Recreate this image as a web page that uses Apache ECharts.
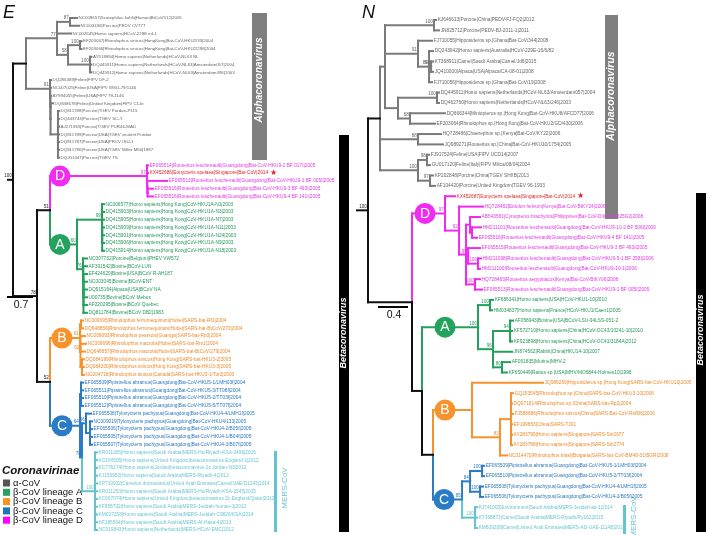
<!DOCTYPE html>
<html><head><meta charset="utf-8">
<script src="https://cdn.jsdelivr.net/npm/echarts@6/dist/echarts.min.js"></script>
<style>html,body{margin:0;padding:0;background:#fff}#c{width:709px;height:535px}</style>
</head><body><div id="c"></div><script>
// ===================== DATA (Newick subtrees, branch lengths in substitutions/site) =====================
const E_alphaUp = "((NC009657|Scotophilus kuhlii|Hainan|BtCoV512|2005:0.189,NC003436|Porcine|PEDV CV777:0.243)87:0.350,NC002645|Homo sapiens|HCoV-229E inf-1:0.377,((EF203067|Rhinolophus sinicus|HongKong|Bat-CoV-HKU2/33|2004:0.040,EF203066|Rhinolophus sinicus|HongKong|Bat-CoV-HKU2/298|2004:0.040)100:0.323,(AY518894|Homo sapiens|Netherlands|HCoV-NL63 NL:0.040,DQ445911|Homo sapiens|Netherlands|HCoV-NL63|Amsterdam057|2004:0.040,DQ445912|Homo sapiens|Netherlands|HCoV-NL63|Amsterdam496|2003:0.040)100:0.593)58:0.296)77{alpha}:0.836";
const E_alphaLow = "(DQ286389|Feline|FIPV DF-2:0.027,(NC007025|Feline|USA|FIPV WSU-79/1146:0.022,(AY994055|Feline|USA|FIPV 79-1146:0.016,(DQ848678|Feline|United Kingdom|FIPV C1Je:0.065,(DQ811788|Porcine|TGEV Purdue-P115:0.027,DQ443743|Porcine|TGEV SC-Y:0.027,AJ271965|Porcine|TGEV PUR46-MAD:0.027,DQ811789|Porcine|USA|TGEV virulent Purdue:0.027,DQ811787|Porcine|USA|PRCV ISU-1:0.027,DQ811786|Porcine|USA|TGEV Miller M60|1987:0.027,DQ201447|Porcine|TGEV TS:0.027):0.2):0.005):0.005):0.005)91{alpha}:0.647";
const E_D = "(EF065514|Rousettus leschenaulti|Guangdong|Bat-CoV-HKU9-2 BF 017I|2005:0.027,KX452686|Eonycteris spelaea|Singapore|Bat-CoV|2014:0.027,(EF065513|Rousettus leschenaulti|Guangdong|Bat-CoV-HKU9-1 BF 005I|2005:0.531,(EF065515|Rousettus leschenaulti|Guangdong|Bat-CoV-HKU9-3 BF 493I|2005:0.146,EF065516|Rousettus leschenaulti|Guangdong|Bat-CoV-HKU9-4 BF 141I|2005:0.146):0.008):0.008)97{D}:2.615";
const E_A = "((NC006577|Homo sapiens|Hong Kong|CoV-HKU1A-N1|2003:0.054,DQ415903|Homo sapiens|Hong Kong|CoV-HKU1A-N3|2003:0.054,(DQ415905|Homo sapiens|Hong Kong|CoV-HKU1A-N7|2003:0.049,DQ415909|Homo sapiens|Hong Kong|CoV-HKU1A-N11|2003:0.049,DQ415901|Homo sapiens|Hong Kong|CoV-HKU1A-N24|2003:0.049,DQ415906|Homo sapiens|Hong Kong|CoV-HKU1A-N9|2003:0.049,DQ415914|Homo sapiens|Hong Kong|CoV-HKU1A-N18|2003:0.049):0.005)99:0.674,(NC007732|Porcine|Belgium|PHEV VW572:0.108,(AF391542|Bovine|BCoV-LUN:0.1,(EF424620|Bovine|USA|BCoV R-AH187:0.094,NC003045|Bovine|BCoV-ENT:0.094,DQ915164|Alpaca|USA|BCoV NA:0.094,U00735|Bovine|BCoV Mebus:0.094,AF220295|Bovine|BCoV Quebec:0.094,DQ811784|Bovine|BCoV DB2|1983:0.094):0.005):0.008)76:0.162)60{A}:0.728";
const E_B = "((NC009695|Rhinolophus ferrumequinum|Hubei|SARS-bat-Rf1|2004:0.054,DQ648856|Rhinolophus ferrumequinum|Hubei|SARS-bat-BtCoV/273|2004:0.054):0.027,(NC009693|Rhinolophus pearsoni|Guangxi|SARS-bat-Rp3|2004:0.121,NC009696|Rhinolophus macrotis|Hubei|SARS-bat-Rm1|2004:0.148,DQ648857|Rhinolophus macrotis|Hubei|SARS-bat-BtCoV/279|2004:0.121,(DQ084199|Rhinolophus sinicus|Hong Kong|SARS-bat-HKU3-2|2005:0.054,DQ084200|Rhinolophus sinicus|Hong Kong|SARS-bat-HKU3-3|2005:0.054,NC004718|Rhinolophus sinicus|Canada|SARS-bat-HKU3-1/Tor2|2003:0.054):0.04)62:0.013)61{B}:0.809";
const E_MERS = "(KR011265|Homo sapiens|Saudi Arabia|MERS-Hu/Riyadh-KSA-2496|2015:0.054,KC164505|Homo sapiens|United Kingdom|betacoronavirus England 1|2012:0.054,KC776174|Homo sapiens|Jordan|betacoronavirus 2c Jordan-N3|2012:0.054,KJ156952|Homo sapiens|Saudi Arabia|MERS-Riyadh-4|2013:0.054,KP719932|Camelus dromedarius|United Arab Emirates|Camel/UAE/D1243|2014:0.054,KR011263|Homo sapiens|Saudi Arabia|MERS-Hu/Riyadh-KSA-2345|2015:0.054,KC667074|Homo sapiens|United Kingdom|betacoronavirus 2c England/Qatar|2012:0.054,KF958702|Homo sapiens|Saudi Arabia|MERS-Jeddah-human-1|2013:0.054,KM027258|Homo sapiens|Saudi Arabia|MERS-Jeddah-C9826/KSA|2014:0.054,KF186564|Homo sapiens|Saudi Arabia|MERS-Al-Hasa-4|2013:0.054,NC019843|Homo sapiens|Netherlands|MERS-HCoV-EMC|2012:0.054)100{MERS}:0.35";
const E_C = "((EF065509|Pipistrellus abramus|Guangdong|Bat-CoV-HKU5-1/LMH03f|2004:0.054,EF065511|Pipistrellus abramus|Guangdong|Bat-CoV-HKU5-3/TT08f|2004:0.054,EF065510|Pipistrellus abramus|Guangdong|Bat-CoV-HKU5-2/TT03f|2004:0.054,EF065512|Pipistrellus abramus|Guangdong|Bat-CoV-HKU5-5/TT07f|2004:0.054):0.027,((EF065508|Tylonycteris pachypus|Guangdong|Bat-CoV-HKU4-4/LMH1f|2005:0.135,(NC009019|Tylonycteris pachypus|Guangdong|Bat-CoV-HKU4/133|2005:0.054,EF065506|Tylonycteris pachypus|Guangdong|Bat-CoV-HKU4-2/B05f|2005:0.054,EF065505|Tylonycteris pachypus|Guangdong|Bat-CoV-HKU4-1/B04f|2005:0.054,EF065507|Tylonycteris pachypus|Guangdong|Bat-CoV-HKU4-3/B07f|2005:0.054):0.108)96:0.108," + E_MERS + ")78:0.054)64{C}:0.809";
const treeE = "((" + E_alphaUp + "," + E_alphaLow + "):0.35,((" + E_D + "," + E_A + ")51:0.35,(" + E_B + "," + E_C + ")52:0.35)78:0.647)100:0.135";

const N_alpha1 = "((KJ646613|Porcine|China|PEDV-FJ-FQ2|2012:0.027,JN825712|Porcine|PEDV-BJ-2011-1|2011:0.067)100:0.653,(FJ710055|Hipposideros sp.|Ghana|Bat-CoV/344|2008:0.187,(DQ243942|Homo sapiens|Australia|HCoV-229E-16/6/82:0.053,(KT368911|Camel|Saudi Arabia|Camel/Jd6|2015:0.027,JQ410000|Alpaca|USA|Alpaca/CA-08-01|2008:0.027)91:0.027,FJ710056|Hipposideros sp.|Ghana|Bat-CoV/19|2008:0.04)89:0.147)91:0.44,((DQ445911|Homo sapiens|Netherlands|HCoV-NL63/Amsterdam057|2004:0.027,DQ462760|Homo sapiens|Netherlands|HCoV-NL63/246|2003:0.027)100:0.52,(DQ666344|Miniopterus sp.|Hong Kong|Bat-CoV-HKU8/AFCD77|2006:0.467,EF203064|Rhinolophus sp.|Hong Kong|Bat-CoV-HKU2/GD/430|2006:0.333)68:0.16):0.173){alpha}:0.067";
const N_alpha2 = "(HQ728486|Chaerephon sp.|Kenya|Bat-CoV/KY22|2006:0.307,JQ989271|Rousettus sp.|China|Bat-CoV-HKU10/1754|2005:0.333)88{alpha}:0.507";
const N_alpha3 = "((FJ917524|Feline|USA|FIPV UCD14|2007:0.027,GU017120|Feline|Italy|FIPV Milica/08/04|2004:0.04)98:0.12,(KP202848|Porcine|China|TGEV SHXB|2013:0.04,AF104420|Porcine|United Kingdom|TGEV 96-1933:0.067)97:0.16)100{alpha}:0.507";
const N_D = "(KX452687|Eonycteris spelaea|Singapore|Bat-CoV|2014:0.133,(HQ728482|Eidolon helvum|Kenya|Bat-CoV-BtKY24|2006:0.32,((AB543561|Cynopterus brachyotis|Philippines|Bat-CoV-Diliman1525G2|2008:0.133,(HM211101|Rousettus leschenaulti|Guangdong|Bat-CoV-HKU9-10-2 BF 506I|2006:0.12,EF065516|Rousettus leschenaulti|Guangdong|Bat-CoV-HKU9-4 BF 141I|2005:0.067):0.027):0.053,(EF065515|Rousettus leschenaulti|Guangdong|Bat-CoV-HKU9-3 BF 493I|2005:0.16,(HM211098|Rousettus leschenaulti|Guangdong|Bat-CoV-HKU9-5-1 BF 258I|2006:0.04,HM211100|Rousettus leschenaulti|Guangdong|Bat-CoV-HKU9-10-1|2006:0.027)100:0.133)95:0.027,(HQ728483|Rousettus aegyptiacus|Kenya|Bat-CoV-BtKY06|2006:0.067,EF065513|Rousettus leschenaulti|Guangdong|Bat-CoV-HKU9-1 BF 005I|2005:0.093)100:0.12):0.093)92:0.187)97{D}:0.44";
const N_A = "((KF686341|Homo sapiens|USA|HCoV-HKU1-10|2010:0.04,HM034837|Homo sapiens|France|HCoV-HKU1/Caen1|2005:0.027)100:0.16,((AF058943|Bovine|USA|BCoV-LSU-94LSS-051-2:0.04,KF572710|Homo sapiens|China|HCoV-OC43/10241-10|2010:0.027,KF923898|Homo sapiens|China|HCoV-OC43/3184A|2012:0.027)94:0.227,JN874562|Rabbit|China|HKU14-10|2007:0.253,(AF061835|Murine|MHV-2:0.107,KF650449|Rattus sp.|USA|MHV/MO6844-Holmes10|1996:0.067)80:0.12)96:0.2)100{A}:0.747";
const N_B = "(JQ989269|Hipposideros sp.|Hong Kong|SARS-bat-CoV-HKU10|2005:0.947,((GQ153545|Rhinolophus sp.|China|SARS-bat-CoV-HKU3-10|2006:0.027,DQ071614|Rhinolophus sp.|China|SARS-bat-Rp2|2004:0.013,FJ588686|Rhinolophus sinicus|China|SARS-Bat-CoV-Rs806|2006:0.027,EF199653|China|SARS-TJ01:0.013,AY283795|Homo sapiens|Singapore|SARS-Sin2677:0.013,AY283798|Homo sapiens|Singapore|SARS-Sin2774:0.013):0.147,NC014470|Rhinolophus blasii|Bulgaria|SARS-bat-CoV-BM48-31/BGR|2008:0.093)83:0.373){B}:0.52";
const N_C = "(((EF065509|Pipistrellus abramus|Guangdong|Bat-CoV-HKU5-1/LMH03f|2004:0.027,EF065510|Pipistrellus abramus|Guangdong|Bat-CoV-HKU5-2/TT03f|2004:0.027)100:0.16,(EF065508|Tylonycteris pachypus|Guangdong|Bat-CoV-HKU4-4/LMH1f|2005:0.04,EF065506|Tylonycteris pachypus|Guangdong|Bat-CoV-HKU4-2/B05f|2005:0.04)100:0.133)84:0.107,(KJ741003|Environment|Saudi Arabia|MERS-Jeddah-air-1|2014:0.027,KT368871|Camel|Saudi Arabia|MERS-Riyadh/Ry162|2015:0.027,KM609208|Camel|United Arab Emirates|MERS-AD-UAE-1114B|2014:0.027)100{MERS}:0.173)85{C}:0.387";
const treeN = "((" + N_alpha1 + "," + N_alpha2 + "," + N_alpha3 + "):0.16,(" + N_D + ",(" + N_A + ",(" + N_B + "," + N_C + "):0.147):0.133):0.587)100:0.147";

const highlighted = ["KX452686", "KX452687"];
const scaleValues = [0.7, 0.4];
const panelLetters = ["E", "N"];
const legendTitle = "Coronavirinae";
const legendLabels = ["α-CoV", "β-CoV lineage A", "β-CoV lineage B", "β-CoV lineage C", "β-CoV lineage D"];
const legendClades = ["alpha", "A", "B", "C", "D"];
const genusLabels = ["Alphacoronavirus", "Betacoronavirus"];
const mersLabel = "MERS-CoV";

// ===================== STYLE / LAYOUT =====================
const LINE = {root:'#111111', alpha:'#7a7a7a', A:'#22a05c', B:'#f7922c', C:'#2b7cc3', D:'#f02af0', MERS:'#62c4ce'};
const TXT  = {root:'#222222', alpha:'#666666', A:'#26985a', B:'#f08a2a', C:'#2a78c0', D:'#e53ae5', MERS:'#6cc6cf'};
const CIRC = {A:'#24a35e', B:'#f7922c', C:'#2a7cc4', D:'#ef2cef'};
const LEG  = {alpha:'#555555', A:'#27a162', B:'#f7931e', C:'#1c75bc', D:'#ff00ff'};
const RED = '#e0262b';
const FF = '"Liberation Sans", Arial, sans-serif';
const P = [
  {tree:treeE, rootX:13, top:18, bottom:530, ppu:37.1, leafFont:4.8, alphaFont:4.4, circOff:{D:10,A:10,B:12,C:12}},
  {tree:treeN, rootX:368, top:20, bottom:528, ppu:75, leafFont:4.8, alphaFont:4.8, circOff:{D:13,A:23,B:12,C:11}}
];

// ===================== PARSER / LAYOUT =====================
function parseNewick(s) {
  let i = 0;
  function readLabel() { const st = i; while (i < s.length && ':,()'.indexOf(s[i]) < 0) i++; return s.slice(st, i).trim(); }
  function readLen() {
    if (s[i] === ':') { i++; const st = i; while (i < s.length && ',()'.indexOf(s[i]) < 0) i++; return parseFloat(s.slice(st, i)); }
    return 0;
  }
  function node() {
    const n = {children: []};
    if (s[i] === '(') {
      i++;
      n.children.push(node());
      while (s[i] === ',') { i++; n.children.push(node()); }
      i++;
      const lab = readLabel();
      const m = lab.match(/\{(\w+)\}/);
      n.tag = m ? m[1] : null;
      n.boot = lab.replace(/\{\w+\}/, '').trim();
    } else { n.name = readLabel(); }
    n.len = readLen();
    return n;
  }
  return node();
}

function buildPanel(cfg) {
  const root = parseNewick(cfg.tree);
  const leaves = [], internals = [];
  let idx = 0;
  (function walk(n, parent) {
    n.parent = parent;
    n.x = parent ? parent.x + n.len : 0;
    n.clade = n.tag || (parent ? parent.clade : 'root');
    if (n.children.length) {
      n.children.forEach(c => walk(c, n));
      n.y = (n.children[0].y + n.children[n.children.length - 1].y) / 2;
      internals.push(n);
    } else { n.y = idx++; leaves.push(n); }
  })(root, null);
  const segs = [], segMeta = [];
  segs.push([-root.len, root.y, 0, root.y]); segMeta.push('root');
  internals.forEach(n => n.children.forEach(c => {
    segs.push([n.x, n.y, n.x, c.y]); segMeta.push(c.clade);
    segs.push([n.x, c.y, c.x, c.y]); segMeta.push(c.clade);
  }));
  const boots = internals.filter(n => n.boot);
  const circles = internals.filter(n => n.tag && CIRC[n.tag]);
  return {root, leaves, internals, segs, segMeta, boots, circles};
}

const panels = P.map(buildPanel);

// ===================== CHART =====================
const chart = echarts.init(document.getElementById('c'), null, {renderer: 'canvas'});
const grids = [], xAxes = [], yAxes = [], series = [];
P.forEach((cfg, k) => {
  const pd = panels[k];
  const width = 300;
  grids.push({left: cfg.rootX, top: cfg.top, width: width, height: cfg.bottom - cfg.top});
  xAxes.push({type: 'value', gridIndex: k, min: 0, max: width / cfg.ppu, show: false});
  yAxes.push({type: 'value', gridIndex: k, min: 0, max: pd.leaves.length - 1, inverse: true, show: false});
  const base = {type: 'custom', xAxisIndex: k, yAxisIndex: k, clip: false, silent: true, animation: false};
  // branches
  series.push(Object.assign({}, base, {
    data: pd.segs,
    encode: {x: [0, 2], y: [1, 3]},
    renderItem: (params, api) => {
      const p1 = api.coord([api.value(0), api.value(1)]);
      const p2 = api.coord([api.value(2), api.value(3)]);
      return {type: 'line', shape: {x1: p1[0], y1: p1[1], x2: p2[0], y2: p2[1]},
        style: {stroke: LINE[pd.segMeta[params.dataIndex]], lineWidth: 2, lineCap: 'square'}};
    }
  }));
  // leaf labels
  series.push(Object.assign({}, base, {
    data: pd.leaves.map(n => [n.x, n.y]),
    renderItem: (params, api) => {
      const n = pd.leaves[params.dataIndex];
      const p = api.coord([api.value(0), api.value(1)]);
      const hl = highlighted.some(h => n.name.indexOf(h) === 0);
      const fs = n.clade === 'alpha' ? cfg.alphaFont : cfg.leafFont;
      const st = {fill: hl ? RED : TXT[n.clade], fontSize: fs, fontFamily: FF,
        align: 'left', textAlign: 'left', verticalAlign: 'middle', textVerticalAlign: 'middle'};
      if (hl) {
        st.text = '{t|' + n.name + '}{s| ★}';
        st.rich = {t: {fill: RED, fontSize: fs, fontFamily: FF}, s: {fill: RED, fontSize: 8, fontFamily: FF}};
      } else st.text = n.name;
      return {type: 'text', x: p[0] + 1.6, y: p[1], style: st};
    }
  }));
  // bootstrap values
  series.push(Object.assign({}, base, {
    data: pd.boots.map(n => [n.x, n.y]),
    renderItem: (params, api) => {
      const n = pd.boots[params.dataIndex];
      const p = api.coord([api.value(0), api.value(1)]);
      const col = n === pd.root ? TXT.root : TXT[n.clade];
      return {type: 'text', x: p[0] - 1.2, y: p[1] - 1.3,
        style: {text: n.boot, fill: col, fontSize: 4.6, fontFamily: FF,
          align: 'right', textAlign: 'right', verticalAlign: 'bottom', textVerticalAlign: 'bottom'}};
    }
  }));
  // lineage circles
  series.push(Object.assign({}, base, {
    data: pd.circles.map(n => [n.parent.x, n.y]),
    renderItem: (params, api) => {
      const n = pd.circles[params.dataIndex];
      const p = api.coord([api.value(0), api.value(1)]);
      const cx = p[0] + cfg.circOff[n.tag];
      return {type: 'group', children: [
        {type: 'circle', shape: {cx: cx, cy: p[1], r: 10.5}, style: {fill: CIRC[n.tag]}},
        {type: 'text', x: cx, y: p[1] + 0.5, style: {text: n.tag, fill: '#ffffff', fontSize: 14, fontFamily: FF,
          align: 'center', textAlign: 'center', verticalAlign: 'middle', textVerticalAlign: 'middle'}}
      ]};
    }
  }));
  // scale bar
  series.push(Object.assign({}, base, {
    data: [[scaleValues[k], 0]],
    renderItem: (params, api) => {
      const len = api.size([api.value(0), 0])[0];
      const sx = k === 0 ? 7 : 378, sy = k === 0 ? 297 : 307;
      return {type: 'group', children: [
        {type: 'line', shape: {x1: sx, y1: sy, x2: sx + len, y2: sy}, style: {stroke: '#000', lineWidth: 2}},
        {type: 'text', x: sx + len / 2 + 1, y: sy + 3, style: {text: String(api.value(0)), fill: '#111', fontSize: 10.5, fontFamily: FF,
          align: 'center', textAlign: 'center', verticalAlign: 'top', textVerticalAlign: 'top'}}
      ]};
    }
  }));
});

function vtext(x, y, text, fill, font) {
  return {type: 'text', x: x, y: y, rotation: Math.PI / 2, silent: true,
    style: {text: text, fill: fill, font: font, align: 'center', textAlign: 'center', verticalAlign: 'middle', textVerticalAlign: 'middle'}};
}
const graphic = [
  {type: 'text', x: 3, y: 4, style: {text: panelLetters[0], fill: '#111', font: 'italic 18px ' + FF}},
  {type: 'text', x: 362, y: 4, style: {text: panelLetters[1], fill: '#111', font: 'italic 18px ' + FF}},
  {type: 'rect', shape: {x: 252, y: 13, width: 15, height: 147}, style: {fill: '#7f7f7f'}},
  vtext(259.5, 80, genusLabels[0], '#ffffff', 'italic bold 10px ' + FF),
  {type: 'rect', shape: {x: 605, y: 15, width: 13, height: 204}, style: {fill: '#7f7f7f'}},
  vtext(611.5, 96, genusLabels[0], '#ffffff', 'italic bold 10.5px ' + FF),
  {type: 'rect', shape: {x: 339, y: 135, width: 10, height: 397}, style: {fill: '#000'}},
  vtext(344, 333, genusLabels[1], '#ffffff', 'italic bold 9px ' + FF),
  {type: 'rect', shape: {x: 696, y: 193, width: 10, height: 339}, style: {fill: '#000'}},
  vtext(701, 330, genusLabels[1], '#ffffff', 'italic bold 9px ' + FF),
  {type: 'line', shape: {x1: 275.5, y1: 451, x2: 275.5, y2: 532}, style: {stroke: LINE.MERS, lineWidth: 3}},
  vtext(284.5, 488, mersLabel, TXT.MERS, '8px ' + FF),
  {type: 'line', shape: {x1: 624.5, y1: 505, x2: 624.5, y2: 534}, style: {stroke: LINE.MERS, lineWidth: 3}},
  vtext(633.5, 517, mersLabel, TXT.MERS, '8px ' + FF),
  {type: 'text', x: 2, y: 471, style: {text: legendTitle, fill: '#111', font: 'italic bold 11.5px ' + FF, verticalAlign: 'middle', textVerticalAlign: 'middle'}}
];
legendLabels.forEach((lab, i) => {
  const cy = 483 + i * 9.3;
  graphic.push({type: 'rect', shape: {x: 3, y: cy - 3.5, width: 7, height: 7}, style: {fill: LEG[legendClades[i]]}});
  graphic.push({type: 'text', x: 13, y: cy, style: {text: lab, fill: '#111', font: '9.5px ' + FF, verticalAlign: 'middle', textVerticalAlign: 'middle'}});
});

chart.setOption({
  animation: false,
  backgroundColor: '#ffffff',
  grid: grids, xAxis: xAxes, yAxis: yAxes, series: series, graphic: graphic
});
</script></body></html>
